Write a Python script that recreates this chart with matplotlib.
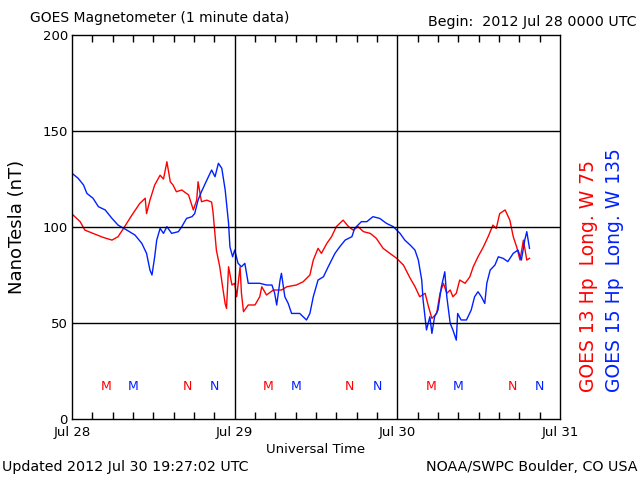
import matplotlib
matplotlib.use("Agg")
import matplotlib.pyplot as plt
import numpy as np

# hours since 2012 Jul 28 00:00 UTC
red_hours = [0.0, 1.2, 1.9, 3.1, 4.6, 5.9, 6.8, 7.6, 8.8, 10.0, 10.8, 11.0, 11.5, 12.2, 13.0,
             13.5, 14.0, 14.5, 14.9, 15.4, 16.2, 17.2, 17.9, 18.4, 18.6, 19.1, 19.9, 20.6,
             20.8, 21.3, 21.8, 22.3, 22.6, 22.8, 23.1, 23.6, 24.0, 24.3, 24.8, 25.0, 25.3,
             26.0, 27.0, 27.7, 28.0, 28.7, 29.7, 30.9, 31.7, 33.1, 34.1, 35.1, 35.6, 36.3,
             36.8, 37.6, 38.3, 39.0, 40.0, 40.8, 41.5, 42.2, 43.0, 44.0, 44.9, 45.9, 46.9,
             47.9, 48.9, 49.9, 50.6, 51.3, 52.1, 52.6, 53.1, 53.8, 54.3, 54.8, 55.3, 55.8,
             56.2, 56.7, 57.2, 58.0, 58.7, 59.2, 59.9, 60.7, 61.4, 62.1, 62.6, 63.1, 63.9,
             64.6, 65.1, 65.6, 66.1, 66.6, 67.1, 67.5]
red_nt = [106.8, 102.8, 98.4, 96.7, 94.6, 93.2, 95.0, 99.3, 106.0, 112.3, 115.0, 107.0, 114.0,
          121.9, 127.0, 125.0, 134.0, 123.6, 121.9, 118.4, 119.3, 116.7, 108.9, 114.0, 123.6,
          113.2, 114.0, 113.0, 108.0, 88.0, 79.3, 67.0, 60.0, 57.6, 79.3, 69.8, 70.7, 63.7,
          79.3, 65.5, 55.9, 59.4, 59.4, 63.7, 68.9, 64.6, 67.2, 67.2, 68.9, 69.8, 71.5, 75.0,
          82.8, 88.9, 86.3, 91.5, 95.0, 100.2, 103.6, 100.2, 98.4, 100.2, 97.6, 96.7, 94.1,
          88.9, 86.3, 83.7, 80.2, 73.3, 69.0, 63.7, 65.5, 58.5, 52.4, 55.0, 65.5, 70.7, 65.5,
          67.2, 63.7, 65.5, 72.4, 70.7, 74.1, 79.3, 84.5, 89.7, 95.0, 101.0, 99.3, 107.0,
          108.9, 103.6, 95.0, 89.7, 82.8, 93.2, 82.8, 83.7]

blue_hours = [0.0, 0.9, 1.7, 2.2, 3.1, 3.9, 4.9, 5.9, 6.8, 8.1, 9.3, 10.3, 11.0, 11.5, 11.8,
              12.2, 12.5, 13.0, 13.5, 14.0, 14.7, 15.7, 16.2, 16.9, 17.7, 18.1, 18.6, 19.1,
              19.9, 20.6, 21.1, 21.6, 22.1, 22.6, 23.1, 23.3, 23.7, 24.0, 24.5, 25.0, 25.5,
              26.0, 26.7, 27.7, 28.7, 29.5, 29.9, 30.2, 30.7, 30.9, 31.4, 31.9, 32.4, 33.6,
              34.6, 35.1, 35.6, 36.3, 37.1, 37.8, 38.8, 39.5, 40.3, 41.3, 41.7, 42.7, 43.5,
              44.4, 45.4, 46.4, 47.4, 48.4, 49.1, 49.9, 50.6, 51.1, 51.6, 51.8, 52.3, 52.8,
              53.1, 53.5, 54.0, 54.5, 55.0, 55.3, 55.8, 56.2, 56.7, 56.9, 57.4, 58.2, 58.9,
              59.4, 59.9, 60.4, 60.9, 61.2, 61.7, 62.4, 62.9, 63.6, 64.3, 65.1, 65.8, 66.3,
              66.8, 67.1, 67.5]
blue_nt = [128.0, 125.4, 121.9, 117.5, 115.0, 110.6, 108.9, 104.5, 101.0, 98.4, 95.8, 91.5,
           86.3, 77.6, 75.0, 84.5, 93.2, 99.3, 96.7, 100.2, 96.7, 97.6, 100.2, 104.5, 105.4,
           107.0, 114.0, 118.4, 124.5, 129.7, 126.2, 133.2, 130.6, 119.3, 101.9, 89.7, 84.5,
           88.0, 81.1, 79.3, 81.1, 70.7, 70.7, 70.7, 69.8, 69.8, 65.5, 59.4, 72.4, 75.9, 63.7,
           60.2, 55.0, 55.0, 51.6, 55.0, 63.7, 72.4, 74.1, 79.3, 86.3, 89.7, 93.2, 95.0, 99.3,
           102.8, 102.8, 105.4, 104.5, 101.9, 100.2, 96.7, 93.2, 90.6, 88.0, 82.8, 72.4, 62.0,
           46.4, 53.3, 44.6, 53.3, 56.8, 68.9, 76.7, 63.7, 49.8, 46.4, 41.1, 55.0, 51.6, 51.6,
           56.8, 63.7, 66.3, 63.7, 60.2, 70.7, 77.6, 80.2, 84.5, 83.7, 82.0, 86.3, 88.0, 82.8,
           93.2, 97.6, 88.9]

# local midnight / noon markers (hours)
red_m = [5, 29, 53]
blue_m = [9, 33, 57]
red_n = [17, 41, 65]
blue_n = [21, 45, 69]

day_labels = ["Jul 28", "Jul 29", "Jul 30", "Jul 31"]
y_ticks = [0, 50, 100, 150, 200]

RED = "#ff0000"
BLUE = "#0020ff"

fig = plt.figure(figsize=(6.4, 4.8), dpi=100)
ax = fig.add_axes([0.1125, 0.127, 0.7625, 0.8])

ax.plot(red_hours, red_nt, color=RED, lw=1.0)
ax.plot(blue_hours, blue_nt, color=BLUE, lw=1.0)

for h in red_m:
    ax.text(h, 17, "M", color=RED, ha="center", va="center", fontsize=9)
for h in blue_m:
    ax.text(h, 17, "M", color=BLUE, ha="center", va="center", fontsize=9)
for h in red_n:
    ax.text(h, 17, "N", color=RED, ha="center", va="center", fontsize=9)
for h in blue_n:
    ax.text(h, 17, "N", color=BLUE, ha="center", va="center", fontsize=9)

ax.set_xlim(0, 72)
ax.set_ylim(0, 200)
for v in [50, 100, 150]:
    ax.axhline(v, color="black", lw=1)
for d in [24, 48]:
    ax.axvline(d, color="black", lw=1)

ax.set_xticks([0, 24, 48, 72])
ax.set_xticklabels(day_labels, fontsize=9.5)
ax.set_xticks(np.arange(3, 72, 3), minor=True)
ax.set_yticks(y_ticks)
ax.set_yticklabels([str(v) for v in y_ticks], fontsize=9.5)
ax.tick_params(axis="y", length=0, pad=3)
ax.tick_params(axis="x", which="major", length=0, pad=5)
ax.tick_params(axis="x", which="minor", direction="in", length=5, width=1,
               top=True, bottom=True)
for s in ax.spines.values():
    s.set_linewidth(1)

ax.set_xlabel("Universal Time", fontsize=9.5, labelpad=3)
ax.set_ylabel("NanoTesla (nT)", fontsize=13, labelpad=12)

fig.text(30 / 640, 1 - 18 / 480, "GOES Magnetometer (1 minute data)", fontsize=10,
         ha="left", va="center")
fig.text(637 / 640, 1 - 22 / 480, "Begin:  2012 Jul 28 0000 UTC", fontsize=10.3,
         ha="right", va="center")
fig.text(2 / 640, 1 - 467 / 480, "Updated 2012 Jul 30 19:27:02 UTC", fontsize=10.3,
         ha="left", va="center")
fig.text(638 / 640, 1 - 467 / 480, "NOAA/SWPC Boulder, CO USA", fontsize=10.3,
         ha="right", va="center")

fig.text(589 / 640, 1 - 392 / 480, "GOES 13 Hp  Long. W 75", color=RED, fontsize=13.5,
         rotation=90, ha="center", va="bottom")
fig.text(615 / 640, 1 - 392 / 480, "GOES 15 Hp  Long. W 135", color=BLUE, fontsize=13.5,
         rotation=90, ha="center", va="bottom")

fig.savefig("out.png", dpi=100)
